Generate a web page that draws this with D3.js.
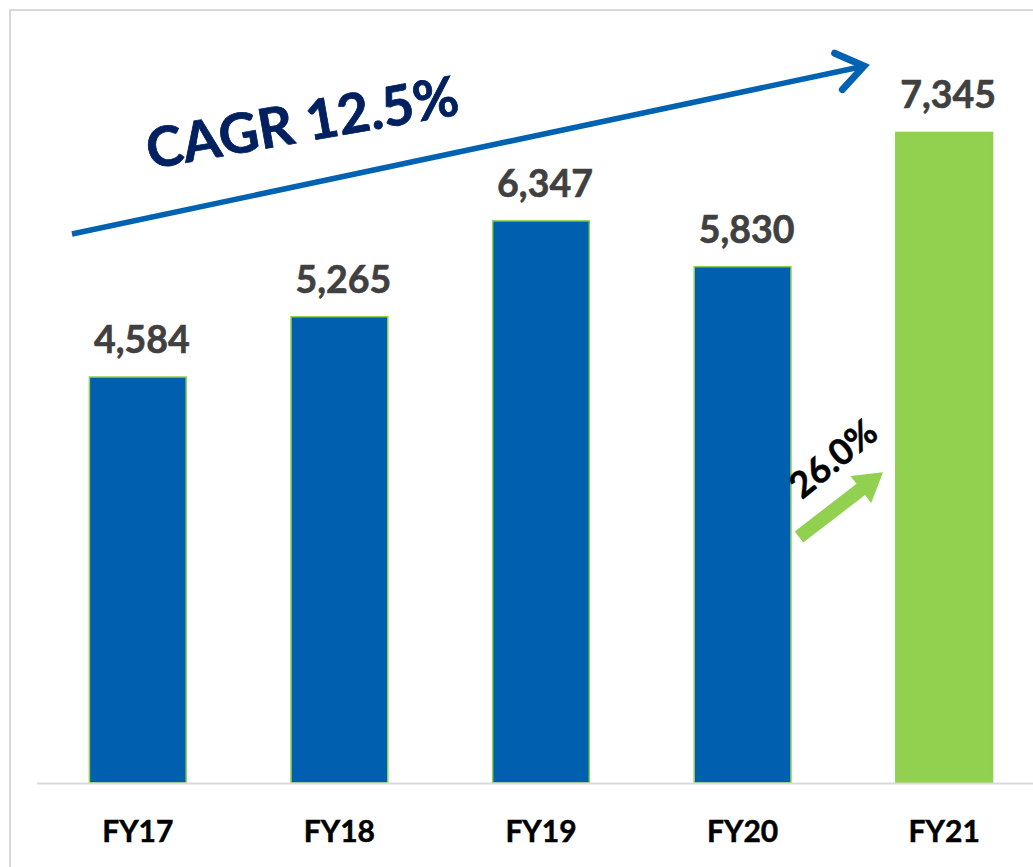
<!DOCTYPE html>
<html><head><meta charset="utf-8">
<script src="https://cdn.jsdelivr.net/npm/d3@7"></script>
<style>html,body{margin:0;padding:0;background:#fff;overflow:hidden}</style>
</head><body>
<svg id="chart" width="1033" height="867"></svg>
<script>
const categories = ["FY17","FY18","FY19","FY20","FY21"];
const values = [4584, 5265, 6347, 5830, 7345];
const valueLabels = ["4,584","5,265","6,347","5,830","7,345"];
const cagrLabel = "CAGR 12.5%";
const growthLabel = "26.0%";

const svg = d3.select("#chart");
const W = 1033, H = 867;
const baseY = 783;

// frame
svg.append("rect").attr("x",10).attr("y",10).attr("width",W+20).attr("height",H+20)
  .attr("fill","#fff").attr("stroke","#d9d9d9").attr("stroke-width",2);

const x = d3.scaleBand().domain(categories).range([37,1045]).paddingInner(0.52).paddingOuter(0.26);
const y = d3.scaleLinear().domain([0,8000]).range([baseY, baseY - 8000*0.08857]);

const blue = "#005faf", green = "#92d050";

svg.selectAll("rect.bar").data(categories).join("rect").attr("class","bar")
  .attr("x", d => x(d)).attr("width", x.bandwidth())
  .attr("y", (d,i) => y(values[i])).attr("height", (d,i) => baseY - y(values[i]))
  .attr("fill", (d,i) => i === 4 ? green : blue)
  .attr("stroke", green).attr("stroke-width", 1.5);

// baseline
svg.append("line").attr("x1",37).attr("x2",W).attr("y1",baseY+0.5).attr("y2",baseY+0.5)
  .attr("stroke","#d9d9d9").attr("stroke-width",2);

// value labels
svg.selectAll("text.val").data(categories).join("text").attr("class","val")
  .attr("x", d => x(d) + x.bandwidth()/2 + 4)
  .attr("y", (d,i) => y(values[i]) - 24)
  .attr("text-anchor","middle")
  .attr("font-family","Lato, 'Open Sans', sans-serif").attr("font-weight",700)
  .attr("font-size",37.5).attr("fill","#404040")
  .attr("stroke","#404040").attr("stroke-width",0.6)
  .text((d,i) => valueLabels[i]);

// category axis labels
const xAxis = d3.axisBottom(x).tickSize(0).tickPadding(0);
const gx = svg.append("g").attr("transform",`translate(0,${baseY})`).call(xAxis);
gx.select(".domain").remove();
gx.selectAll("text").attr("y",59).attr("dy",0)
  .attr("font-family","Lato, 'Open Sans', sans-serif").attr("font-weight",700)
  .attr("font-size",30).attr("fill","#000").attr("stroke","#000").attr("stroke-width",0.5);

// CAGR arrow
const ax0 = 72, ay0 = 234, ax1 = 864, ay1 = 66;
svg.append("line").attr("x1",ax0).attr("y1",ay0).attr("x2",ax1-4).attr("y2",ay1+1)
  .attr("stroke","#0062b1").attr("stroke-width",5.5);
const ang = Math.atan2(ay1-ay0, ax1-ax0);
const headLen = 32, headAng = 0.62;
const p1 = [ax1 - headLen*Math.cos(ang-headAng), ay1 - headLen*Math.sin(ang-headAng)];
const p2 = [ax1 - headLen*Math.cos(ang+headAng), ay1 - headLen*Math.sin(ang+headAng)];
svg.append("path").attr("d", `M${p1[0]},${p1[1]}L${ax1},${ay1}L${p2[0]},${p2[1]}`)
  .attr("fill","none").attr("stroke","#0062b1").attr("stroke-width",7)
  .attr("stroke-linecap","round").attr("stroke-linejoin","miter");

svg.append("text").attr("transform","translate(150,169) rotate(-10)")
  .attr("font-family","Lato, 'Open Sans', sans-serif").attr("font-weight",700)
  .attr("font-size",55).attr("fill","#002060").attr("stroke","#002060").attr("stroke-width",0.8)
  .text(cagrLabel);

// green growth arrow
const g2 = svg.append("g").attr("transform","translate(799,537) rotate(-37.6)");
g2.append("path").attr("d","M0,-7 L78,-7 L78,-17 L106,0 L78,17 L78,7 L0,7 Z").attr("fill",green);

svg.append("text").attr("transform","translate(802,500) rotate(-39)")
  .attr("font-family","Lato, 'Open Sans', sans-serif").attr("font-weight",700)
  .attr("font-size",36).attr("fill","#000").attr("stroke","#000").attr("stroke-width",0.5)
  .text(growthLabel);
</script>
</body></html>
